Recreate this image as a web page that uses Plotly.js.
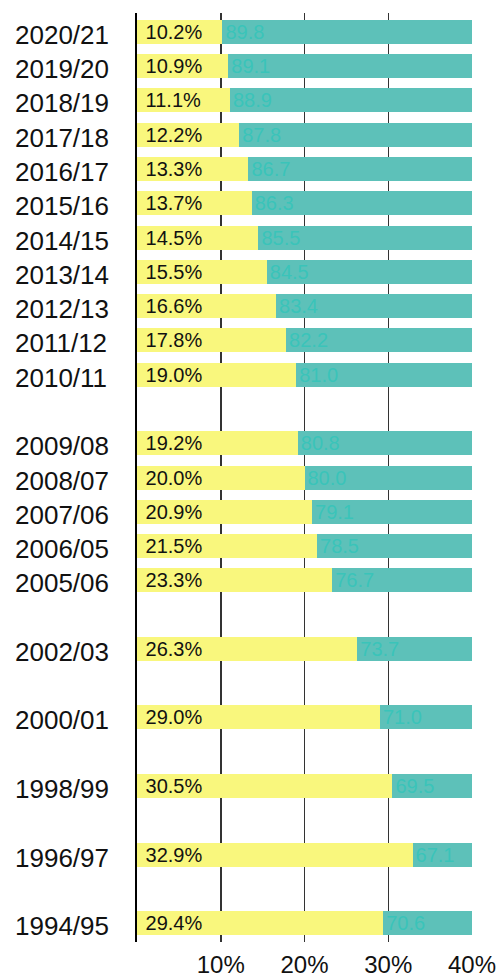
<!DOCTYPE html>
<html>
<head>
<meta charset="utf-8">
<script src="https://cdn.plot.ly/plotly-3.0.1.min.js"></script>
<style>html,body{margin:0;padding:0;background:#fff;}#chart{width:502px;height:978px;}</style>
</head>
<body>
<div id="chart"></div>
<script>
// Years shown (top to bottom) and the share values
var years = ["2020/21","2019/20","2018/19","2017/18","2016/17","2015/16","2014/15","2013/14","2012/13","2011/12","2010/11",
             "2009/08","2008/07","2007/06","2006/05","2005/06",
             "2002/03","2000/01","1998/99","1996/97","1994/95"];
var yellowShare = [10.2,10.9,11.1,12.2,13.3,13.7,14.5,15.5,16.6,17.8,19.0,
                   19.2,20.0,20.9,21.5,23.3,
                   26.3,29.0,30.5,32.9,29.4];
var tealShare = [89.8,89.1,88.9,87.8,86.7,86.3,85.5,84.5,83.4,82.2,81.0,
                 80.8,80.0,79.1,78.5,76.7,
                 73.7,71.0,69.5,67.1,70.6];
// Category order including empty gap rows
var categoryOrder = ["2020/21","2019/20","2018/19","2017/18","2016/17","2015/16","2014/15","2013/14","2012/13","2011/12","2010/11",
                     "gap1",
                     "2009/08","2008/07","2007/06","2006/05","2005/06",
                     "gap2","2002/03","gap3","2000/01","gap4","1998/99","gap5","1996/97","gap6","1994/95"];
var xTicks = [10,20,30,40];
var xTickText = xTicks.map(function(v){ return v + "%"; });

var font = "Liberation Sans, Arial, sans-serif";

var traces = [
  {
    type: "bar", orientation: "h", y: years, x: yellowShare,
    marker: {color: "#f9f77d", line: {width: 0}},
    texttemplate: " %{x:.1f}%", textposition: "inside", insidetextanchor: "start",
    textfont: {family: font, size: 20, color: "#111"}, constraintext: "none",
    hoverinfo: "skip"
  },
  {
    type: "bar", orientation: "h", y: years, x: tealShare,
    marker: {color: "#5dc1b9", line: {width: 0}},
    texttemplate: "%{x:.1f}", textposition: "inside", insidetextanchor: "start",
    textfont: {family: font, size: 20, color: "#3ac4b9"}, constraintext: "none",
    hoverinfo: "skip"
  }
];

// left-aligned year labels
var plotLeft = 137, plotWidth = 335;
var yearLabels = years.map(function(y){
  return {
    xref: "paper", yref: "y", x: (13 - plotLeft) / plotWidth, y: y,
    xanchor: "left", yanchor: "middle", yshift: -3,
    text: y, showarrow: false,
    font: {family: font, size: 26, color: "#111"}
  };
});

var layout = {
  width: 502, height: 978,
  margin: {l: plotLeft, r: 502 - plotLeft - plotWidth, t: 13, b: 36},
  paper_bgcolor: "#fff", plot_bgcolor: "#fff",
  barmode: "stack", bargap: 0.3, showlegend: false,
  font: {family: font, color: "#111"},
  annotations: yearLabels,
  xaxis: {
    range: [0, 40], tickmode: "array", tickvals: xTicks, ticktext: xTickText,
    showgrid: true, gridcolor: "#333", gridwidth: 1.5, zeroline: false,
    showline: false, ticks: "", ticklabelstandoff: 6,
    tickfont: {family: font, size: 24, color: "#111"},
    fixedrange: true
  },
  yaxis: {
    type: "category", categoryorder: "array", categoryarray: categoryOrder,
    range: [26.55, -0.55],
    showticklabels: false,
    showgrid: false, zeroline: false, showline: true, linecolor: "#000", linewidth: 2.5,
    ticks: "", fixedrange: true
  }
};

Plotly.newPlot("chart", traces, layout, {displayModeBar: false, staticPlot: true});
</script>
</body>
</html>
